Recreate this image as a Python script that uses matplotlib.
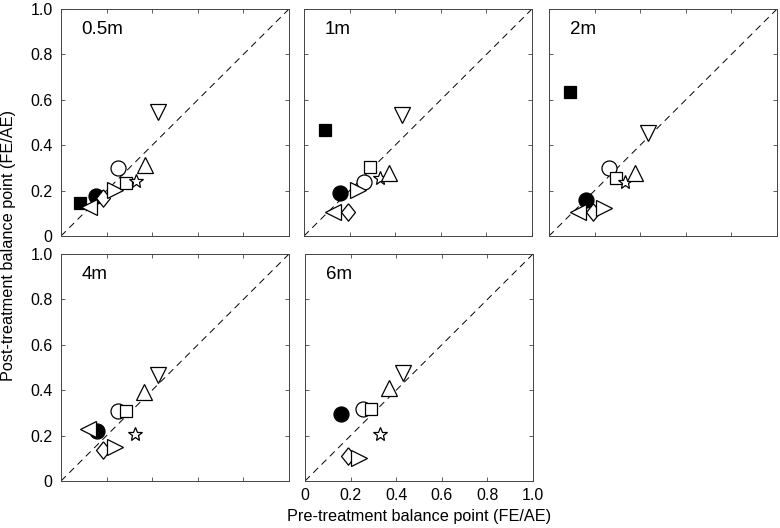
import matplotlib
matplotlib.use("Agg")
import matplotlib.pyplot as plt

plt.rcParams['font.family'] = ['Liberation Sans', 'DejaVu Sans']

# time points (one panel each)
panels = ['0.5m', '1m', '2m', '4m', '6m']

# one entry per subject symbol
symbols = ['s_fill', 'o_fill', 'diamond', 'ltri', 'o_open', 'rtri', 's_open', 'star', 'utri', 'dtri']

# pre-treatment balance point (x) and post-treatment balance point (y), None = no data
pre_05 = [0.083, 0.153, 0.186, 0.124, 0.251, 0.237, 0.285, 0.329, 0.368, 0.425]
post_05 = [0.145, 0.176, 0.166, 0.126, 0.298, 0.203, 0.235, 0.242, 0.313, 0.546]

pre_1 = [0.092, 0.157, 0.194, 0.128, 0.262, 0.237, 0.291, 0.332, 0.373, 0.431]
post_1 = [0.467, 0.188, 0.104, 0.104, 0.239, 0.203, 0.305, 0.254, 0.279, 0.533]

pre_2 = [0.092, 0.161, 0.191, 0.125, 0.261, 0.242, 0.294, 0.335, 0.377, 0.433]
post_2 = [0.636, 0.159, 0.107, 0.104, 0.298, 0.122, 0.254, 0.239, 0.279, 0.452]

pre_4 = [None, 0.156, 0.186, 0.120, 0.251, 0.237, 0.285, 0.325, 0.365, 0.427]
post_4 = [None, 0.220, 0.137, 0.229, 0.310, 0.148, 0.310, 0.206, 0.393, 0.467]

pre_6 = [None, 0.158, 0.190, None, 0.253, 0.237, 0.289, 0.329, 0.368, 0.431]
post_6 = [None, 0.294, 0.111, None, 0.316, 0.101, 0.319, 0.209, 0.408, 0.477]

all_pre = [pre_05, pre_1, pre_2, pre_4, pre_6]
all_post = [post_05, post_1, post_2, post_4, post_6]

diamond = [(0, 1), (0.8, 0), (0, -1), (-0.8, 0), (0, 1)]

style = {
    's_fill': dict(marker='s', ms=8.6, mfc='black'),
    'o_fill': dict(marker='o', ms=10.8, mfc='black'),
    'diamond': dict(marker=diamond, ms=12.5, mfc='white'),
    'ltri': dict(marker='<', ms=11, mfc='white'),
    'rtri': dict(marker='>', ms=11, mfc='white'),
    'o_open': dict(marker='o', ms=10.8, mfc='white'),
    's_open': dict(marker='s', ms=8.6, mfc='white'),
    'star': dict(marker='*', ms=10.5, mfc='white'),
    'utri': dict(marker='^', ms=11.5, mfc='white'),
    'dtri': dict(marker='v', ms=11.5, mfc='white'),
}

fig = plt.figure(figsize=(7.8, 5.28), dpi=100)
W, H = 780.0, 528.0
# panel boxes in pixels: left, top
boxes = [(61, 9), (304, 9), (549, 9), (61, 254), (305, 254)]
pw, ph = 228, 227

ticks = [0, 0.2, 0.4, 0.6, 0.8, 1.0]
ticklabels = ['0', '0.2', '0.4', '0.6', '0.8', '1.0']

for i, name in enumerate(panels):
    l, t = boxes[i]
    ax = fig.add_axes([l / W, (H - t - ph) / H, pw / W, ph / H])
    ax.plot([0, 1], [0, 1], ls=(0, (7, 5)), color='black', lw=0.7, zorder=1)
    for j, s in enumerate(symbols):
        x = all_pre[i][j]
        y = all_post[i][j]
        if x is None:
            continue
        st = style[s]
        ax.plot([x], [y], ls='none', marker=st['marker'], ms=st['ms'],
                mfc=st['mfc'], mec='black', mew=0.9, zorder=2 + j)
    ax.set_xlim(0, 1)
    ax.set_ylim(0, 1)
    ax.set_xticks(ticks)
    ax.set_yticks(ticks)
    ax.tick_params(direction='in', length=3, width=0.6, top=True, right=True,
                   labelsize=11.5, colors='#444444', labelcolor='black')
    ax.tick_params(axis='y', pad=6)
    ax.tick_params(axis='x', pad=5)
    ax.set_yticklabels(ticklabels if i in (0, 3) else [])
    ax.set_xticklabels(ticklabels if i == 4 else [])
    for sp in ax.spines.values():
        sp.set_linewidth(0.7)
        sp.set_color('#444444')
    ax.text(0.09, 0.91, name, transform=ax.transAxes, fontsize=13.5,
            ha='left', va='center')

fig.text(419 / W, 1 - 517 / H, 'Pre-treatment balance point (FE/AE)',
         ha='center', va='center', fontsize=11.7)
fig.text(9 / W, 1 - 246 / H, 'Post-treatment balance point (FE/AE)',
         ha='center', va='center', rotation=90, fontsize=11.7)

fig.savefig('out.png', dpi=100)
